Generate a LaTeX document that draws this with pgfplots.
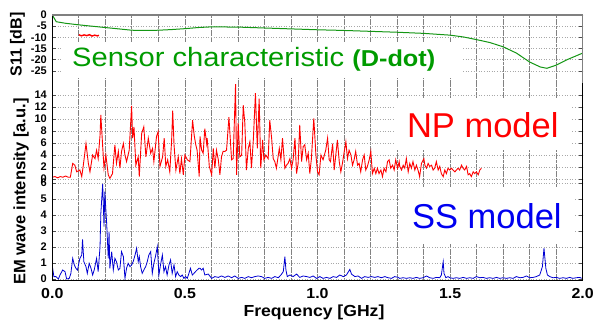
\documentclass[border=0pt]{standalone}
\usepackage{pgfplots}
\pgfplotsset{compat=1.18}
\usepackage{fontspec}
\setmainfont{Liberation Sans}
\newfontfamily\widefont{Liberation Sans}[FakeStretch=1.1]
\definecolor{sgreen}{RGB}{20,150,20}
\definecolor{tgreen}{RGB}{0,155,0}
\definecolor{sblue}{RGB}{0,0,210}
\definecolor{tblue}{RGB}{0,0,240}
\definecolor{gridc}{RGB}{130,130,130}

\pgfplotsset{
 panel/.style={
  scale only axis, width=530.4pt, xmin=0, xmax=2,
  anchor=south west,
  axis line style={draw=none},
  xtick={0,0.5,...,2.0}, minor xtick={0.1,0.2,0.3,0.4,0.6,0.7,0.8,0.9,1.1,1.2,1.3,1.4,1.6,1.7,1.8,1.9},
  xmajorgrids, xminorgrids, ymajorgrids,
  x grid style={gridc, line width=0.8pt, dash pattern=on 3pt off 0.6pt},
  y grid style={gridc!70, line width=0.6pt, dotted},
  xtick style={draw=none},
  tick align=inside, major tick length=4pt,
  ytick style={black!70, line width=0.6pt},
  yticklabel style={font=\bfseries\fontsize{11}{11}\selectfont, xshift=-2pt},
  xticklabels={},
 }
}

\begin{document}
\begin{tikzpicture}
\path[use as bounding box] (0,0) rectangle (593pt,322pt);

% ---------- top panel: S11 ----------
\begin{axis}[panel, at={(52.3pt,239pt)}, height=68pt,
  ymin=-30.36, ymax=0,
  ytick={0,-5,-10,-15,-20,-25}, yticklabels={0,-5,-10,-15,-20,-25}]
\fill[white] (axis cs:0.037,-12.0) rectangle (axis cs:1.548,-28.3);
\addplot[sgreen, line width=1pt] coordinates {
(0,0) (0.015,-3.0) (0.05,-3.7) (0.1,-4.4) (0.15,-5.0) (0.2,-5.6) (0.25,-6.2)
(0.3,-6.8) (0.35,-6.9) (0.4,-6.8) (0.45,-6.5) (0.5,-6.1) (0.55,-5.6) (0.6,-5.3)
(0.7,-5.4) (0.8,-5.8) (0.9,-6.2) (1.0,-6.6) (1.1,-6.9) (1.2,-7.3) (1.3,-7.7)
(1.4,-8.2) (1.5,-9.0) (1.55,-9.8) (1.6,-11.0) (1.65,-12.3) (1.7,-14.2)
(1.75,-17.0) (1.8,-21.0) (1.84,-23.2) (1.865,-23.8) (1.9,-22.4) (1.94,-20.0)
(1.97,-18.5) (2.0,-17.0)};
\addplot[red, line width=1.4pt] coordinates {
(0.100,-8.8) (0.110,-9.3) (0.120,-8.9) (0.130,-9.2) (0.140,-8.8) (0.150,-9.4)
(0.160,-9.0) (0.170,-9.3) (0.176,-9.1)};
\node[anchor=base west, inner sep=0pt, text=tgreen] at (axis cs:0.074,-23.1)
 {\widefont\fontsize{26.5}{26.5}\selectfont Sensor characteristic {\bfseries\fontsize{23}{23}\selectfont (D-dot)}};
\end{axis}

% ---------- middle panel: NP ----------
\begin{axis}[panel, at={(52.3pt,141pt)}, height=98pt,
  ymin=-0.333, ymax=16,
  ytick={0,2,...,14}, yticklabels={0,2,4,6,8,10,12,14}]
\fill[white] (axis cs:1.292,13.5) rectangle (axis cs:1.959,4.83);
\addplot[red, line width=0.9pt] coordinates {
(0.000,0.3) (0.010,0.4) (0.020,0.2) (0.030,0.4) (0.040,0.3) (0.050,0.5) (0.060,0.3)
(0.068,0.3) (0.077,2.6) (0.085,2.3) (0.092,1.2) (0.104,1.5) (0.111,0.4) (0.117,2.3)
(0.127,5.9) (0.136,2.6) (0.142,1.2) (0.152,4.0) (0.161,3.4) (0.167,4.8) (0.173,3.4)
(0.180,7.3) (0.183,10.7) (0.190,5.4) (0.195,1.8) (0.202,4.0) (0.211,0.7) (0.217,0.1)
(0.227,0.9) (0.236,5.7) (0.242,2.6) (0.249,4.6) (0.255,1.8) (0.261,4.6) (0.268,5.9)
(0.274,4.0) (0.280,2.9) (0.290,4.8) (0.299,12.2) (0.303,6.8) (0.308,8.7) (0.315,2.3)
(0.324,3.7) (0.328,0.4) (0.337,7.6) (0.345,8.7) (0.353,3.7) (0.362,6.8) (0.371,4.3)
(0.378,5.1) (0.383,2.9) (0.393,7.1) (0.399,7.9) (0.406,2.1) (0.416,3.7) (0.422,6.8)
(0.428,2.1) (0.435,3.2) (0.443,1.2) (0.450,6.5) (0.454,11.4) (0.459,5.7) (0.466,1.5)
(0.475,3.7) (0.481,0.9) (0.487,3.4) (0.494,0.7) (0.500,4.0) (0.509,3.2) (0.519,2.9)
(0.529,9.8) (0.535,7.3) (0.541,5.7) (0.546,4.8) (0.554,0.4)
(0.557,7.1) (0.563,4.8) (0.569,4.3) (0.575,8.4) (0.582,5.9) (0.584,6.8) (0.592,2.1)
(0.601,0.7) (0.607,5.1) (0.613,1.8) (0.619,4.8) (0.626,3.2) (0.632,0.7) (0.638,3.7)
(0.644,4.6) (0.651,4.6) (0.657,4.8) (0.666,10.3) (0.676,3.2) (0.682,3.4) (0.691,15.8)
(0.695,0.7) (0.701,9.3) (0.707,3.7) (0.714,4.0) (0.720,12.3) (0.726,9.3) (0.732,1.5)
(0.739,5.1) (0.745,6.2) (0.751,1.8) (0.758,6.5) (0.766,14.3) (0.773,5.1) (0.780,13.4)
(0.786,1.8) (0.793,6.5) (0.798,3.2) (0.805,4.0) (0.814,3.4) (0.820,9.8) (0.827,6.8)
(0.833,3.4) (0.839,2.9) (0.845,1.8) (0.856,5.1) (0.862,3.2) (0.868,6.8) (0.877,1.8)
(0.883,2.3) (0.889,2.6) (0.896,3.4) (0.902,1.8) (0.908,3.2) (0.915,6.8) (0.921,0.9)
(0.927,2.6) (0.933,9.0) (0.940,2.9) (0.946,5.4) (0.952,5.7) (0.959,3.2) (0.965,4.3)
(0.971,0.9) (0.977,3.4) (0.986,10.1) (0.994,4.0) (1.000,1.2) (1.006,0.7) (1.013,4.0)
(1.021,3.2) (1.031,4.8) (1.038,6.8) (1.044,3.2) (1.049,2.9) (1.057,5.9) (1.063,1.5)
(1.069,4.0) (1.075,6.5) (1.082,2.9) (1.088,1.2) (1.094,2.6) (1.101,4.6) (1.107,6.2)
(1.113,3.4) (1.119,4.8) (1.126,4.0) (1.132,2.3) (1.138,3.2) (1.144,4.6) (1.151,2.3)
(1.157,2.6) (1.163,1.2) (1.170,3.2) (1.176,4.0) (1.182,1.5) (1.188,2.1) (1.195,3.2)
(1.201,4.6) (1.207,0.9) (1.214,1.8) (1.220,0.9) (1.226,1.8) (1.232,0.9) (1.239,1.5)
(1.245,0.4) (1.251,1.8) (1.258,1.2) (1.264,2.9) (1.270,3.2) (1.276,1.8) (1.283,2.3)
(1.289,1.5) (1.295,3.2) (1.302,1.8) (1.308,2.9)
(1.310,2.1) (1.317,1.5) (1.323,2.3) (1.329,1.8) (1.335,3.4) (1.342,1.2) (1.348,2.6)
(1.354,1.8) (1.360,2.9) (1.367,1.5) (1.373,2.3) (1.379,1.5) (1.385,0.4) (1.392,2.6)
(1.401,3.4) (1.405,2.3) (1.411,1.8) (1.417,2.6) (1.423,2.1) (1.430,2.3) (1.436,1.5)
(1.442,1.8) (1.448,2.9) (1.455,1.5) (1.461,2.1) (1.467,0.9) (1.474,0.4) (1.480,1.5)
(1.486,0.9) (1.492,1.8) (1.499,1.5) (1.505,1.8) (1.511,1.5) (1.518,1.2) (1.524,1.5)
(1.530,1.8) (1.536,1.5) (1.543,2.3) (1.549,1.8) (1.555,1.5) (1.562,2.1) (1.568,0.7)
(1.574,0.9) (1.580,0.4) (1.587,1.2) (1.593,0.9) (1.599,1.2) (1.606,0.7) (1.612,1.5)
(1.618,1.8)};
\node[anchor=base west, inner sep=0pt, text=red] at (axis cs:1.337,7.0)
 {\fontsize{34.5}{34.5}\selectfont NP model};
\end{axis}

% ---------- bottom panel: SS ----------
\begin{axis}[panel, at={(52.3pt,41.5pt)}, height=99.5pt,
  ymin=-0.094, ymax=6.125,
  ytick={0,1,...,6}, yticklabels={0,1,2,3,4,5,6},
  xticklabels={0.0,0.5,1.0,1.5,2.0},
  xticklabel style={font=\widefont\bfseries\fontsize{14.5}{14.5}\selectfont, yshift=-4.5pt}]
\fill[white] (axis cs:1.31,5.75) rectangle (axis cs:1.97,2.19);
\addplot[sblue, line width=0.8pt] coordinates {
(0.000,0.81) (0.006,0.15) (0.014,0.15) (0.023,0.0) (0.029,0.25) (0.039,0.56) (0.048,0.46)
(0.054,0.0) (0.064,0.04) (0.070,0.35) (0.077,1.29) (0.083,0.88) (0.089,0.67) (0.095,0.56)
(0.104,1.29) (0.111,1.50) (0.114,2.48) (0.119,1.08) (0.127,0.77) (0.132,0.35) (0.139,0.98)
(0.146,0.67) (0.152,0.25) (0.158,0.56) (0.167,1.29) (0.173,0.46) (0.180,2.02) (0.183,4.10)
(0.190,5.95) (0.195,3.27) (0.198,5.46) (0.205,3.48) (0.211,1.29) (0.214,2.96) (0.217,0.67)
(0.224,1.71) (0.230,0.56) (0.236,1.29) (0.242,1.08) (0.249,0.56) (0.255,0.67) (0.261,1.71)
(0.268,1.40) (0.274,0.04) (0.280,0.67) (0.286,0.98) (0.293,0.77) (0.299,0.88) (0.305,1.08)
(0.312,1.50) (0.318,1.92) (0.324,1.08) (0.328,1.40) (0.333,0.77) (0.339,0.35) (0.345,0.56)
(0.352,0.77) (0.358,1.08) (0.364,1.50) (0.371,1.71) (0.377,0.35) (0.383,0.98) (0.389,1.40)
(0.396,2.02) (0.402,0.25) (0.408,0.88) (0.415,1.50) (0.421,0.46) (0.427,0.77) (0.433,0.25)
(0.440,0.88) (0.446,1.19) (0.452,0.35) (0.459,0.88) (0.465,0.15) (0.471,0.46) (0.477,0.25)
(0.484,0.15) (0.490,0.25) (0.496,0.04) (0.503,0.15) (0.509,0.04) (0.515,0.35) (0.521,0.67)
(0.528,0.25) (0.534,0.35) (0.540,0.46) (0.546,0.56) (0.553,0.67)
(0.557,0.67) (0.563,0.56) (0.569,0.67) (0.575,0.25) (0.588,0.31) (0.601,0.04) (0.613,0.15)
(0.626,0.10) (0.638,0.19) (0.651,0.10) (0.663,0.19) (0.676,0.08) (0.688,0.19) (0.701,0.04)
(0.714,0.10) (0.726,0.04) (0.739,0.15) (0.751,0.08) (0.764,0.15) (0.776,0.19) (0.789,0.15)
(0.801,0.04) (0.814,0.10) (0.827,0.04) (0.839,0.15) (0.852,0.08) (0.862,0.25) (0.871,0.46)
(0.877,1.40) (0.881,0.56) (0.886,0.15) (0.896,0.25) (0.908,0.15) (0.921,0.31) (0.933,0.10)
(0.946,0.19) (0.959,0.15) (0.971,0.10) (0.984,0.19) (0.996,0.04) (1.009,0.15) (1.021,0.04)
(1.034,0.10) (1.047,0.04) (1.059,0.15) (1.072,0.10) (1.084,0.25) (1.097,0.15) (1.109,0.25)
(1.122,0.60) (1.128,0.31) (1.141,0.15) (1.153,0.19) (1.166,0.04) (1.178,0.15) (1.191,0.10)
(1.203,0.15) (1.216,0.10) (1.228,0.15) (1.241,0.08) (1.254,0.15) (1.266,0.08) (1.279,0.04)
(1.291,0.15) (1.304,0.10)
(1.310,0.04) (1.323,0.08) (1.335,0.04) (1.348,0.08) (1.360,0.04) (1.373,0.10) (1.385,0.04)
(1.398,0.08) (1.411,0.19) (1.423,0.08) (1.436,0.04) (1.448,0.10) (1.461,0.08) (1.467,0.25)
(1.474,1.08) (1.477,0.35) (1.484,0.08) (1.492,0.15) (1.499,0.08) (1.511,0.04) (1.524,0.08)
(1.536,0.04) (1.549,0.10) (1.562,0.04) (1.574,0.08) (1.587,0.04) (1.599,0.15) (1.612,0.08)
(1.624,0.10) (1.637,0.04) (1.649,0.08) (1.662,0.04) (1.675,0.10) (1.687,0.04) (1.700,0.08)
(1.712,0.04) (1.725,0.08) (1.737,0.04) (1.750,0.15) (1.763,0.08) (1.775,0.10) (1.788,0.19)
(1.800,0.08) (1.813,0.10) (1.825,0.15) (1.838,0.25) (1.848,0.77) (1.854,1.92) (1.861,0.67)
(1.867,0.25) (1.876,0.15) (1.888,0.08) (1.901,0.10) (1.913,0.04) (1.926,0.08) (1.938,0.04)
(1.951,0.10) (1.963,0.04) (1.976,0.08) (1.989,0.10) (1.996,0.04)};
\node[anchor=base west, inner sep=0pt, text=tblue] at (axis cs:1.356,3.17)
 {\fontsize{34.5}{34.5}\selectfont SS model};
\end{axis}

% frame
\draw[black, line width=0.8pt] (52.3pt,307pt) -- (52.3pt,41.5pt) -- (582.7pt,41.5pt) -- (582.7pt,239pt);
\draw[gray, line width=1.2pt] (52.3pt,307pt) -- (582.7pt,307pt);
\draw[gray, line width=1pt] (582.7pt,307pt) -- (582.7pt,239pt);

% axis labels
\node[rotate=90, font=\bfseries\fontsize{16}{16}\selectfont] at (17.5pt,277.5pt) {S11 [dB]};
\node[rotate=90, font=\bfseries\fontsize{16.5}{16.5}\selectfont] at (21pt,130.5pt) {EM wave intensity [a.u.]};
\node[anchor=base, font=\widefont\bfseries\fontsize{16}{16}\selectfont] at (314pt,5.3pt) {Frequency [GHz]};
\end{tikzpicture}
\end{document}
